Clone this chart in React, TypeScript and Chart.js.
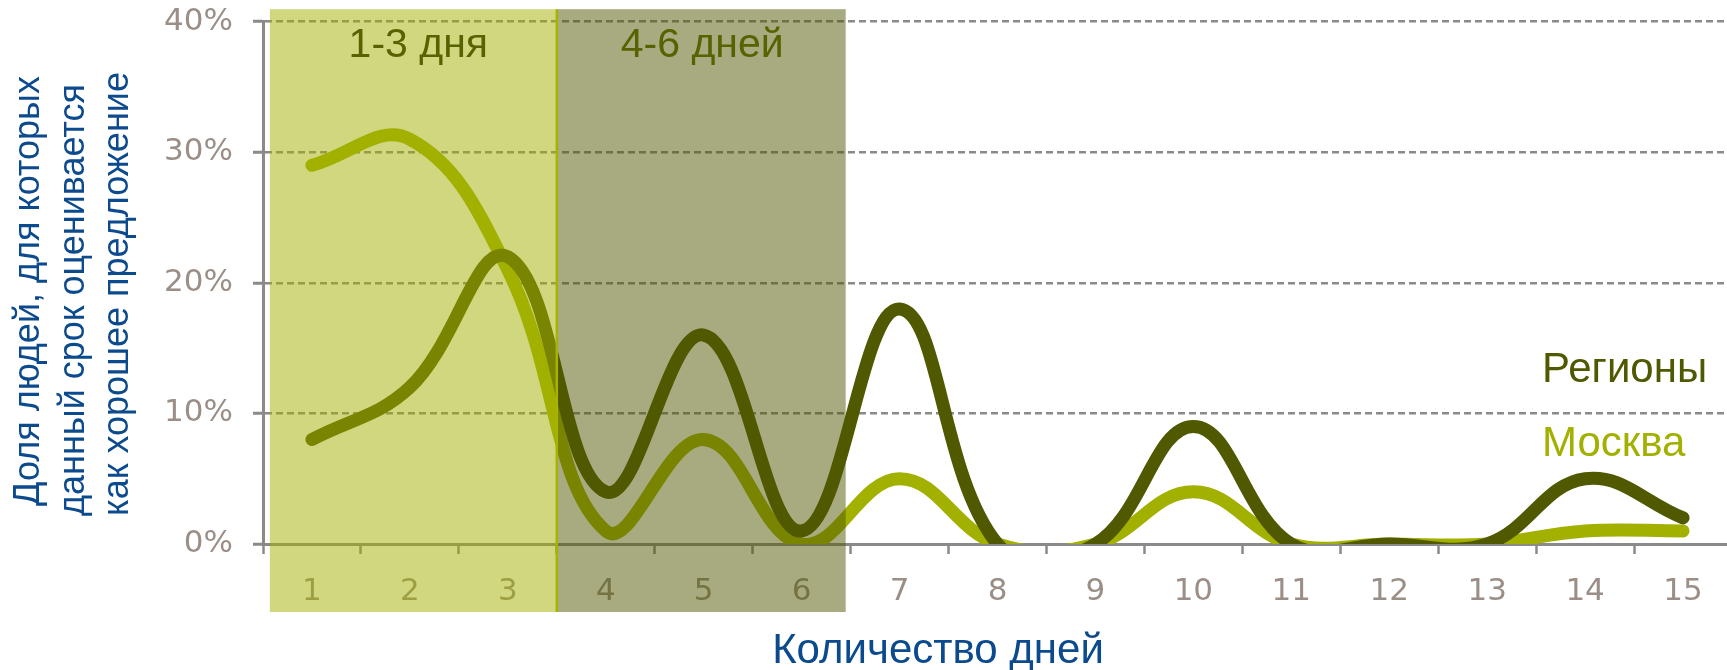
import React, { useEffect, useRef } from 'react';
import { Chart, registerables } from 'chart.js';

Chart.register(...registerables);

// ---- data ----
const categories = ['1', '2', '3', '4', '5', '6', '7', '8', '9', '10', '11', '12', '13', '14', '15'];
const regions = [8, 12, 22, 4, 16, 1, 18, 0, 0, 9, 0, 0, 0, 5, 2];
const moscow = [29, 31, 21, 1, 8, 0, 5, 0, 0, 4, 0, 0, 0, 1, 1];
const yTicks = [0, 10, 20, 30, 40];
const seriesNames = ['Регионы', 'Москва'];
const bandLabels = ['1-3 дня', '4-6 дней'];
const yTitleLines = ['Доля людей, для которых', 'данный срок оценивается', 'как хорошее предложение'];
const xTitle = 'Количество дней';

// ---- styles ----
const REGIONS_COLOR = '#505800';
const MOSCOW_COLOR = '#a2b000';
const AXIS_COLOR = '#8a8a8a';
const TICK_TEXT = '#9a8e87';
const TITLE_BLUE = '#0c4a8e';
const SANS = '"Liberation Sans", Arial, sans-serif';
const TICK_FONT = '"DejaVu Sans", Verdana, sans-serif';

const overlayPlugin = {
  id: 'overlay',
  afterDraw(chart: any) {
    const { ctx, scales } = chart;
    const x = scales.x;
    const y = scales.y;
    const w = x.getPixelForValue(1) - x.getPixelForValue(0);
    const top = y.getPixelForValue(40) - 12.5;
    const bottom = y.getPixelForValue(0) + 68;
    const b0 = x.getPixelForValue(0) - 0.43 * w;
    const b1 = x.getPixelForValue(2) + 0.5 * w;
    const b2 = x.getPixelForValue(5) + 0.45 * w;

    ctx.save();
    // shaded bands (drawn over everything, semi-transparent)
    ctx.fillStyle = 'rgba(162,176,0,0.5)';
    ctx.fillRect(b0, top, b1 - b0, bottom - top);
    ctx.fillStyle = 'rgba(80,88,0,0.5)';
    ctx.fillRect(b1, top, b2 - b1, bottom - top);
    ctx.strokeStyle = '#a8b200';
    ctx.lineWidth = 2.5;
    ctx.beginPath();
    ctx.moveTo(b1, top);
    ctx.lineTo(b1, bottom);
    ctx.stroke();

    // band labels
    ctx.font = `41px ${SANS}`;
    ctx.fillStyle = '#586200';
    ctx.textAlign = 'center';
    ctx.textBaseline = 'alphabetic';
    ctx.fillText(bandLabels[0], (b0 + b1) / 2 + 5, top + 48);
    ctx.fillText(bandLabels[1], (b1 + b2) / 2 + 1, top + 48);

    // series labels
    const lx = x.getPixelForValue(14) - 141;
    ctx.textAlign = 'left';
    ctx.font = `42px ${SANS}`;
    ctx.fillStyle = REGIONS_COLOR;
    ctx.fillText(seriesNames[0], lx, y.getPixelForValue(12.4));
    ctx.fillStyle = MOSCOW_COLOR;
    ctx.fillText(seriesNames[1], lx, y.getPixelForValue(6.75));

    // x title
    ctx.fillStyle = TITLE_BLUE;
    ctx.font = `42px ${SANS}`;
    ctx.textAlign = 'center';
    ctx.fillText(xTitle, 938, 663);

    // y title (rotated, three lines)
    ctx.font = `36px ${SANS}`;
    const baselines = [39, 84, 128];
    const centers = [291, 300, 294];
    yTitleLines.forEach((line, i) => {
      ctx.save();
      ctx.translate(baselines[i], centers[i]);
      ctx.rotate(-Math.PI / 2);
      ctx.textAlign = 'center';
      ctx.textBaseline = 'alphabetic';
      ctx.fillText(line, 0, 0);
      ctx.restore();
    });
    ctx.restore();
  },
};

export default function App() {
  const canvasRef = useRef<HTMLCanvasElement | null>(null);

  useEffect(() => {
    const canvas = canvasRef.current;
    if (!canvas) return;
    const lineCommon = {
      borderWidth: 13,
      tension: 0.4,
      pointRadius: 0,
      pointHoverRadius: 0,
      fill: false,
      clip: 0,
      borderCapStyle: 'round',
      borderJoinStyle: 'round',
    };
    const chart = new Chart(canvas, {
      type: 'line',
      data: {
        labels: categories,
        datasets: [
          { ...lineCommon, label: seriesNames[0], data: regions, borderColor: REGIONS_COLOR },
          { ...lineCommon, label: seriesNames[1], data: moscow, borderColor: MOSCOW_COLOR },
        ] as any,
      },
      options: {
        responsive: false,
        animation: false,
        devicePixelRatio: 1,
        layout: { padding: { top: 21.7, left: 0, right: 0, bottom: 0 } },
        elements: { line: { capBezierPoints: false } },
        plugins: {
          legend: { display: false },
          tooltip: { enabled: false },
        },
        scales: {
          x: {
            type: 'category',
            offset: true,
            grid: {
              display: true,
              drawOnChartArea: false,
              drawTicks: true,
              tickLength: 10,
              tickColor: AXIS_COLOR,
              tickWidth: 2.5,
              offset: true,
            },
            border: { display: true, color: AXIS_COLOR, width: 3 },
            ticks: {
              color: TICK_TEXT,
              font: { family: TICK_FONT, size: 31 },
              padding: 19,
              maxRotation: 0,
              autoSkip: false,
            },
            afterFit: (s: any) => {
              s.height = 126;
              s.paddingLeft = 0;
              s.paddingRight = 0;
            },
          },
          y: {
            min: 0,
            max: 40,
            afterBuildTicks: (s: any) => {
              s.ticks = yTicks.map((v) => ({ value: v }));
            },
            ticks: {
              callback: (v: any) => `${v}%`,
              color: TICK_TEXT,
              font: { family: TICK_FONT, size: 31 },
              padding: 20,
            },
            grid: {
              color: (c: any) => (c.tick && c.tick.value === 0 ? 'rgba(0,0,0,0)' : AXIS_COLOR),
              lineWidth: 2.5,
              tickLength: 10,
              tickColor: AXIS_COLOR,
              tickWidth: 3,
            },
            border: { display: true, color: AXIS_COLOR, width: 3, dash: [7, 4] },
            afterFit: (s: any) => {
              s.width = 263;
              s.paddingTop = 0;
              s.paddingBottom = 0;
            },
          },
        },
      } as any,
      plugins: [overlayPlugin],
    });
    return () => chart.destroy();
  }, []);

  return (
    <div
      style={{
        position: 'fixed',
        left: 0,
        top: 0,
        width: 1727,
        height: 670,
        overflow: 'hidden',
        background: '#ffffff',
      }}
    >
      <canvas ref={canvasRef} width={1732} height={670} style={{ width: 1732, height: 670, display: 'block' }} />
    </div>
  );
}
